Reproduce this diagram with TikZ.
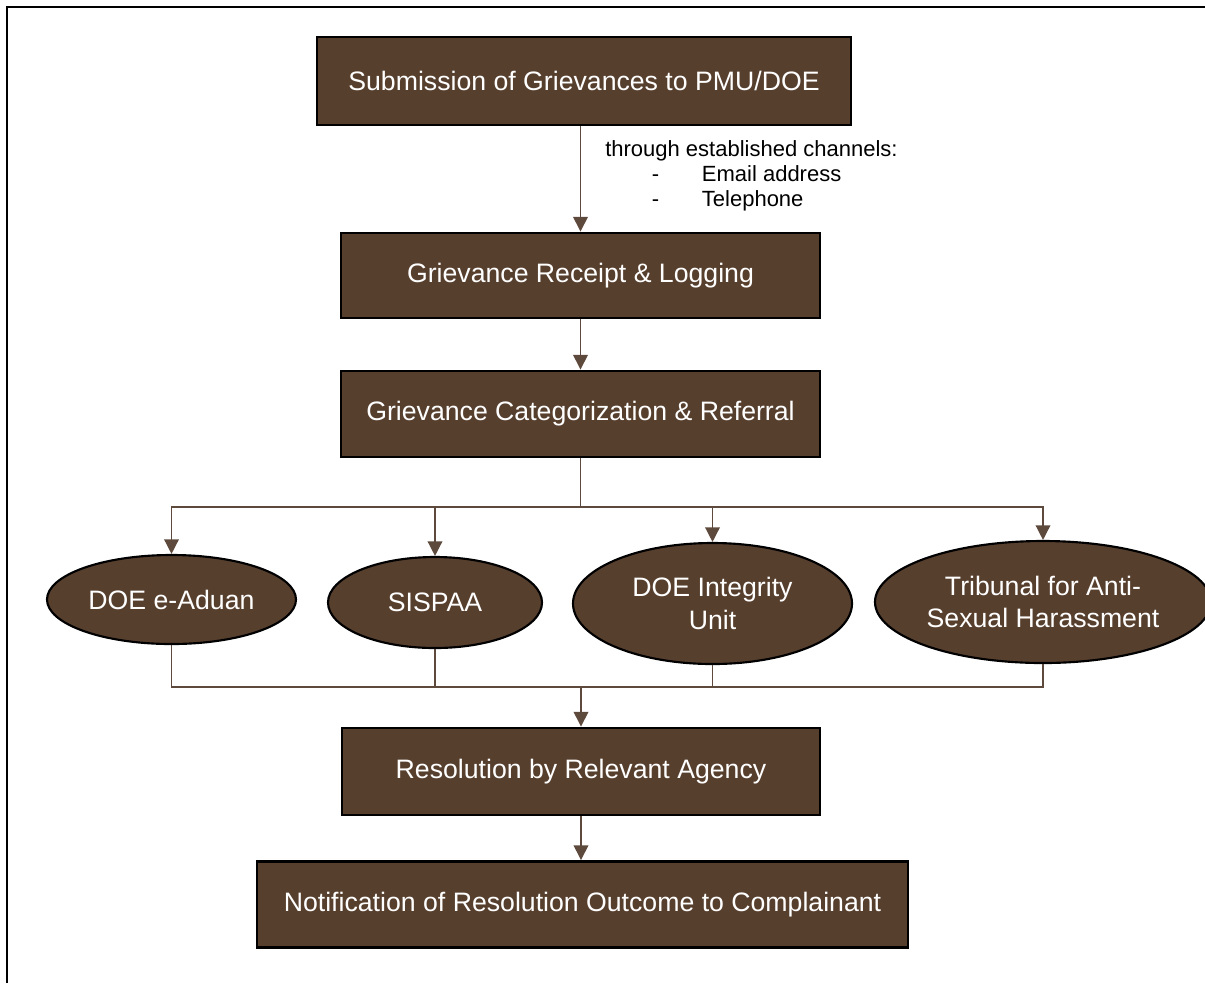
\documentclass[tikz,border=0pt]{standalone}
\usepackage{fontspec}
\setmainfont{Liberation Sans}
\usepackage{tikz}
\usetikzlibrary{shapes.geometric,arrows.meta}

\definecolor{boxbrown}{RGB}{87,63,46}
\definecolor{linebrown}{RGB}{94,74,60}

\tikzset{
  stepbox/.style={draw=black, line width=2.2pt, fill=boxbrown, text=white,
    font=\fontsize{20}{24}\selectfont, inner sep=0pt, align=center},
  agency/.style={ellipse, draw=black, line width=1.6pt, fill=boxbrown, text=white,
    font=\fontsize{20}{24.5}\selectfont, inner sep=0pt, align=center},
  conn/.style={draw=linebrown, line width=1.1pt, -{Triangle[width=11pt,length=11pt]}},
  link/.style={draw=linebrown, line width=1.1pt}
}

\begin{document}
\begin{tikzpicture}[x=0.75pt,y=-0.75pt]
\useasboundingbox (0,0) rectangle (1205,983);
%% page frame, cut at the right and the bottom
\draw[line width=1.6pt] (7,983) -- (7,7) -- (1205,7);

%% main steps
\node[stepbox, minimum width=534*0.75pt, minimum height=88*0.75pt] (submit) at (584,81) {Submission of Grievances to PMU/DOE};
\node[stepbox, minimum width=479*0.75pt, minimum height=85*0.75pt] (receipt) at (580.5,275.5) {Grievance Receipt \& Logging};
\node[stepbox, minimum width=479*0.75pt, minimum height=86*0.75pt] (categ) at (580.5,414) {Grievance Categorization \& Referral};

%% channels note beside the first arrow
\node[anchor=north west, font=\fontsize{16.5}{18.75}\selectfont, align=left, inner sep=0pt] (channels) at (605,140)
  {through established channels:\\
   \hspace*{35pt}\makebox[37.5pt][l]{-}Email address\\
   \hspace*{35pt}\makebox[37.5pt][l]{-}Telephone};

%% the four agencies
\node[agency, minimum width=249*0.75pt, minimum height=89*0.75pt] (eaduan) at (171.5,599.5) {DOE e-Aduan};
\node[agency, minimum width=214*0.75pt, minimum height=91*0.75pt] (sispaa) at (435,602.5) {SISPAA};
\node[agency, minimum width=279*0.75pt, minimum height=121*0.75pt] (integrity) at (712.5,603.5) {DOE Integrity\\Unit};
\node[agency, minimum width=336*0.75pt, minimum height=122*0.75pt] (tribunal) at (1043,602) {Tribunal for Anti-\\Sexual Harassment};

%% last steps
\node[stepbox, minimum width=478*0.75pt, minimum height=87*0.75pt] (resolve) at (581,771.5) {Resolution by Relevant Agency};
\node[stepbox, minimum width=651*0.75pt, minimum height=86*0.75pt] (notify) at (582.5,904.5) {Notification of Resolution Outcome to Complainant};

%% connectors
\draw[conn] (submit.south -| receipt.north) -- (receipt.north);
\draw[conn] (receipt) -- (categ);
\coordinate (split) at (580.5,507);
\draw[link] (categ.south) -- (split);
\foreach \n in {eaduan,sispaa,integrity,tribunal}
  \draw[conn] (split) -| (\n.north);
\coordinate (join) at (581,687);
\foreach \n in {eaduan,sispaa,integrity,tribunal}
  \draw[link] (\n.south) |- (join);
\draw[conn] (join) -- (resolve.north);
\draw[conn] (resolve.south) -- (resolve.south |- notify.north);
\end{tikzpicture}
\end{document}
